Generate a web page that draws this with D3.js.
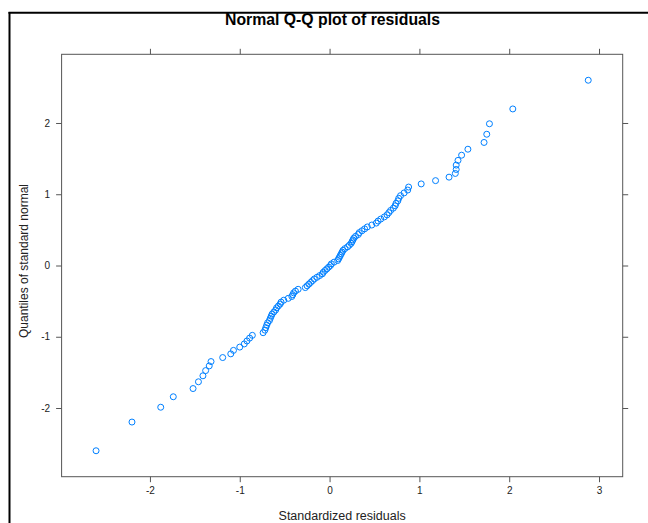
<!DOCTYPE html>
<meta charset="utf-8">
<script src="https://d3js.org/d3.v7.min.js"></script>
<style>
  body { margin: 0; background: #fff; }
  text { font-family: "Liberation Sans", Arial, sans-serif; }
</style>
<body>
<script>

// sorted standardized residuals
var residuals = [-2.60, -2.20, -1.88, -1.74, -1.52, -1.46, -1.41, -1.38, -1.34, -1.32,
  -1.19, -1.10, -1.07, -1.00, -0.95, -0.92, -0.89, -0.86, -0.74, -0.72,
  -0.71, -0.70, -0.69, -0.67, -0.66, -0.65, -0.64, -0.62, -0.60, -0.59,
  -0.57, -0.55, -0.54, -0.51, -0.46, -0.42, -0.41, -0.40, -0.38, -0.35,
  -0.27, -0.25, -0.23, -0.21, -0.19, -0.17, -0.14, -0.11, -0.08, -0.07,
  -0.05, -0.03, -0.01, 0.01, 0.02, 0.05, 0.09, 0.10, 0.11, 0.12,
  0.13, 0.14, 0.15, 0.17, 0.20, 0.22, 0.24, 0.25, 0.26, 0.27,
  0.29, 0.32, 0.33, 0.36, 0.39, 0.42, 0.47, 0.52, 0.54, 0.57,
  0.61, 0.64, 0.66, 0.68, 0.71, 0.73, 0.74, 0.76, 0.77, 0.79,
  0.83, 0.87, 0.88, 1.02, 1.18, 1.33, 1.40, 1.41, 1.41, 1.43,
  1.47, 1.54, 1.72, 1.75, 1.78, 2.04, 2.88]

// quantiles of standard normal, one per residual
var quantiles = [-2.600, -2.197, -1.989, -1.842, -1.727, -1.632, -1.548, -1.475, -1.409, -1.348,
  -1.292, -1.240, -1.191, -1.145, -1.101, -1.059, -1.019, -0.980, -0.943, -0.907,
  -0.872, -0.838, -0.805, -0.773, -0.742, -0.711, -0.682, -0.652, -0.624, -0.595,
  -0.568, -0.541, -0.514, -0.487, -0.461, -0.435, -0.410, -0.384, -0.359, -0.334,
  -0.310, -0.285, -0.261, -0.237, -0.213, -0.189, -0.165, -0.141, -0.117, -0.094,
  -0.070, -0.047, -0.023, 0.000, 0.023, 0.047, 0.070, 0.094, 0.117, 0.141,
  0.165, 0.189, 0.213, 0.237, 0.261, 0.285, 0.310, 0.334, 0.359, 0.384,
  0.410, 0.435, 0.461, 0.487, 0.514, 0.541, 0.568, 0.595, 0.624, 0.652,
  0.682, 0.711, 0.742, 0.773, 0.805, 0.838, 0.872, 0.907, 0.943, 0.980,
  1.019, 1.059, 1.101, 1.145, 1.191, 1.240, 1.292, 1.348, 1.409, 1.475,
  1.548, 1.632, 1.727, 1.842, 1.989, 2.197, 2.600]

var xTicks = [-2, -1, 0, 1, 2, 3]
var yTicks = [-2, -1, 0, 1, 2]

var width = 648
var height = 523
var panel = {left: 61.6, right: 622.7, top: 54.3, bottom: 476.7}

// lattice style: 7% padding around the data range
function padded(ext) {
  var d = (ext[1] - ext[0]) * 0.07
  return [ext[0] - d, ext[1] + d]
}

var x = d3.scaleLinear().domain(padded(d3.extent(residuals))).range([panel.left, panel.right])
var y = d3.scaleLinear().domain(padded(d3.extent(quantiles))).range([panel.bottom, panel.top])

// plain hyphen for negatives, like the original
var fmt = function(d) { return String(d); }

var svg = d3.select("body").append("svg")
    .attr("width", width)
    .attr("height", height)

// outer window frame
svg.append("line").attr("x1", 9.5).attr("x2", 9.5).attr("y1", 12).attr("y2", height)
    .attr("stroke", "#000").attr("stroke-width", 2)
svg.append("line").attr("x1", 8.5).attr("x2", width).attr("y1", 12.7).attr("y2", 12.7)
    .attr("stroke", "#000").attr("stroke-width", 2)

// title
svg.append("text")
    .attr("x", 332.5).attr("y", 25)
    .attr("text-anchor", "middle")
    .style("font-size", "15.8px").style("font-weight", "bold")
    .text("Normal Q-Q plot of residuals")

var tickLen = 5.5
var axisCol = "#555"

// ticks on all four sides, labels left and bottom
svg.append("g").attr("transform", "translate(0," + panel.bottom + ")")
    .call(d3.axisBottom(x).tickValues(xTicks).tickSize(tickLen).tickPadding(5).tickFormat(fmt))
svg.append("g").attr("transform", "translate(0," + panel.top + ")")
    .call(d3.axisTop(x).tickValues(xTicks).tickSize(tickLen).tickFormat(""))
svg.append("g").attr("transform", "translate(" + panel.left + ",0)")
    .call(d3.axisLeft(y).tickValues(yTicks).tickSize(tickLen).tickPadding(6).tickFormat(fmt))
svg.append("g").attr("transform", "translate(" + panel.right + ",0)")
    .call(d3.axisRight(y).tickValues(yTicks).tickSize(tickLen).tickFormat(""))

svg.selectAll(".domain").remove()
svg.selectAll(".tick line").attr("stroke", axisCol)
svg.selectAll(".tick text")
    .style("font-family", "'Liberation Sans', Arial, sans-serif")
    .style("font-size", "10px")
    .attr("fill", "#222")

// panel box
svg.append("rect")
    .attr("x", panel.left).attr("y", panel.top)
    .attr("width", panel.right - panel.left).attr("height", panel.bottom - panel.top)
    .attr("fill", "none").attr("stroke", axisCol).attr("stroke-width", 1)

// points
svg.append("g").selectAll("circle")
    .data(residuals)
    .enter().append("circle")
    .attr("cx", function(d) { return x(d); })
    .attr("cy", function(d, i) { return y(quantiles[i]); })
    .attr("r", 3)
    .attr("fill", "none")
    .attr("stroke", "#0080ff")
    .attr("stroke-width", 1)

// axis titles
svg.append("text")
    .attr("x", (panel.left + panel.right) / 2).attr("y", 519.5)
    .attr("text-anchor", "middle")
    .style("font-size", "12.5px")
    .attr("fill", "#222")
    .text("Standardized residuals")

svg.append("text")
    .attr("transform", "translate(28," + 261 + ") rotate(-90)")
    .attr("text-anchor", "middle")
    .style("font-size", "12px")
    .attr("fill", "#222")
    .text("Quantiles of standard normal")

</script>
</body>
